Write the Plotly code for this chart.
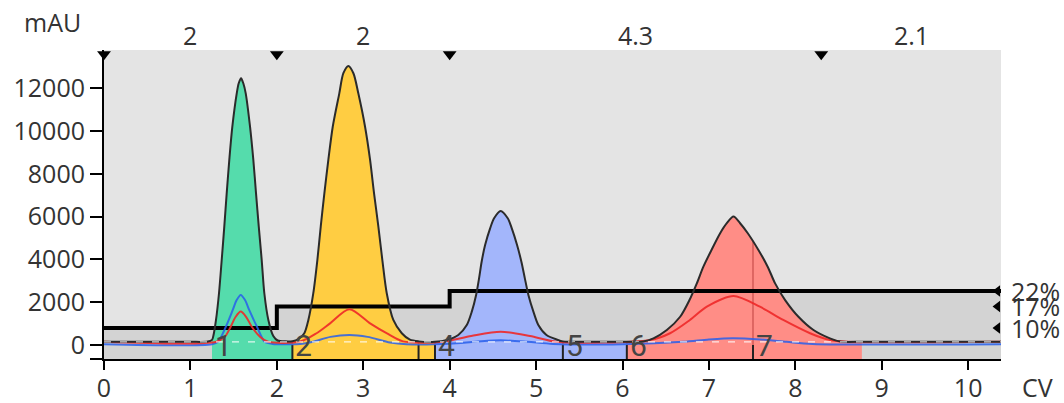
import numpy as np
import plotly.graph_objects as go

# ---------------- data ----------------
uv_x = [0.0, 0.5, 1.0, 1.20, 1.25, 1.265, 1.296, 1.331, 1.362, 1.392, 1.420, 1.450, 1.485, 1.536, 1.559,
        1.586, 1.612, 1.640, 1.690, 1.728, 1.759, 1.791, 1.825, 1.855, 1.902, 1.959, 2.01, 2.10, 2.18,
        2.245, 2.318, 2.365, 2.422, 2.469, 2.508, 2.550, 2.596, 2.647, 2.723, 2.770, 2.828, 2.886, 2.943,
        3.021, 3.079, 3.125, 3.175, 3.221, 3.272, 3.348, 3.446, 3.54, 3.64, 3.83, 3.97, 4.10, 4.198, 4.256,
        4.306, 4.34, 4.37, 4.41, 4.468, 4.514, 4.59, 4.672, 4.719, 4.78, 4.83, 4.87, 4.911, 4.969, 5.026,
        5.12, 5.25, 5.31, 5.6, 6.05, 6.24, 6.358, 6.513, 6.667, 6.775, 6.86, 6.936, 7.03, 7.13, 7.207,
        7.284, 7.361, 7.45, 7.573, 7.68, 7.766, 7.882, 8.036, 8.21, 8.40, 8.52, 8.77, 9.5, 10.38]
uv_y = [150, 150, 150, 160, 240, 420, 1170, 2430, 3970, 5530, 7100, 8650, 10200, 11760, 12230,
        12460, 12230, 11760, 10200, 8650, 7100, 5530, 3970, 2430, 1170, 420, 210, 170, 180,
        260, 550, 1170, 2420, 3970, 5530, 7090, 8650, 10200, 11760, 12700, 13040, 12700, 11760,
        10200, 8650, 7090, 5530, 3970, 2420, 1170, 550, 250, 170, 150, 240, 470, 935, 1560,
        2340, 3115, 3890, 4670, 5450, 5920, 6260, 5920, 5450, 4670, 3890, 3115, 2340, 1560, 935,
        470, 240, 170, 150, 150, 160, 310, 700, 1320, 2100, 2880, 3660, 4440, 5220, 5690,
        6000, 5690, 5220, 4440, 3660, 2880, 2100, 1320, 700, 310, 160, 150, 150, 150]

blue_x = [0.0, 1.25, 1.32, 1.41, 1.49, 1.535, 1.582, 1.632, 1.68, 1.77, 1.86, 1.95, 2.30, 2.42, 2.62, 2.84,
          3.05, 3.31, 3.5, 4.0, 4.3, 4.59, 4.9, 5.2, 6.0, 6.7, 7.0, 7.28, 7.6, 7.9, 8.2, 10.38]
blue_y = [40, 40, 150, 855, 1640, 2100, 2340, 2100, 1640, 855, 150, 50, 60, 150, 380, 470,
          380, 120, 40, 60, 150, 220, 150, 50, 40, 150, 260, 320, 260, 150, 50, 40]

red_x = [0.0, 1.30, 1.40, 1.466, 1.524, 1.582, 1.644, 1.71, 1.805, 1.90, 2.27, 2.46, 2.616, 2.839, 3.079,
         3.27, 3.46, 3.92, 4.25, 4.59, 4.93, 5.24, 6.32, 6.55, 6.78, 6.976, 7.284, 7.59, 7.86, 8.17, 8.40,
         8.6, 10.38]
red_y = [150, 150, 390, 855, 1320, 1560, 1320, 855, 390, 150, 160, 550, 1010, 1670, 1010,
         550, 170, 150, 420, 620, 420, 150, 230, 550, 1170, 1790, 2290, 1790, 1170, 550, 230,
         150, 150]

base_level = 150

grad_x = [0, 2, 4, 10.38]
grad_pct = [10, 17, 22, 22]
pct_marks = [22, 17, 10]

frac_bounds = [1.25, 2.18, 3.64, 3.83, 5.31, 6.05, 7.51, 8.77]
frac_labels = ["1", "2", "3", "4", "5", "6", "7"]
frac_colors = ["#55dcac", "#ffcd42", "#ffcd42", "#a3b6fb", "#a3b6fb", "#ff8d86", "#ff8d86"]

seg_bounds = [0, 2, 4, 8.3]
seg_labels = ["2", "2", "4.3", "2.1"]

x_range = [0, 10.38]
y_range = [-654, 13785]
y_ticks = [0, 2000, 4000, 6000, 8000, 10000, 12000]
x_ticks = list(range(0, 11))

FONT = "Open Sans"
TXT = "#333333"

uvx = np.array(uv_x)
uvy = np.array(uv_y)


def pct_to_y(p):
    # %B scale spans the full plot height (0 % at the bottom edge, 100 % at the top edge)
    return y_range[0] + np.asarray(p, dtype=float) / 100.0 * (y_range[1] - y_range[0])


grad_y = pct_to_y(grad_pct)

fig = go.Figure()

# gradient darker region (between plot bottom and gradient step line)
fig.add_trace(go.Scatter(x=grad_x, y=grad_y, mode="lines", line=dict(width=0, shape="hv"),
                         hoverinfo="skip", showlegend=False))
fig.add_trace(go.Scatter(x=grad_x, y=[y_range[0]] * len(grad_x), mode="lines", line=dict(width=0),
                         fill="tonexty", fillcolor="#d3d3d3", hoverinfo="skip", showlegend=False))

# fraction band rectangles + peak fills (grouped by colour)
groups = []
for i in range(len(frac_labels)):
    a, b, c = frac_bounds[i], frac_bounds[i + 1], frac_colors[i]
    if groups and groups[-1][2] == c and abs(groups[-1][1] - a) < 1e-9:
        groups[-1][1] = b
    else:
        groups.append([a, b, c])

for a, b, c in groups:
    fig.add_trace(go.Scatter(x=[a, b, b, a, a], y=[y_range[0], y_range[0], 0, 0, y_range[0]],
                             mode="lines", line=dict(width=0), fill="toself", fillcolor=c,
                             hoverinfo="skip", showlegend=False))
    m = (uvx >= a - 1e-9) & (uvx <= b + 1e-9)
    fig.add_trace(go.Scatter(x=uvx[m], y=uvy[m], mode="lines", line=dict(width=0, shape="spline", smoothing=0.8),
                             fill="tozeroy", fillcolor=c, hoverinfo="skip", showlegend=False))

# fraction boundary lines
for bnd in frac_bounds[1:-1]:
    top = float(np.interp(bnd, uvx, uvy))
    fig.add_trace(go.Scatter(x=[bnd, bnd], y=[0, top], mode="lines",
                             line=dict(color="rgba(170,40,40,0.5)", width=1.5),
                             hoverinfo="skip", showlegend=False))
    fig.add_trace(go.Scatter(x=[bnd, bnd], y=[y_range[0], 0], mode="lines",
                             line=dict(color="#222222", width=2), hoverinfo="skip", showlegend=False))

# gradient line
fig.add_trace(go.Scatter(x=grad_x, y=grad_y, mode="lines",
                         line=dict(color="#000000", width=4, shape="hv"), hoverinfo="skip", showlegend=False))

# secondary curves
fig.add_trace(go.Scatter(x=blue_x, y=blue_y, mode="lines",
                         line=dict(color="rgba(40,95,235,0.85)", width=2, shape="spline", smoothing=0.8),
                         hoverinfo="skip", showlegend=False))
fig.add_trace(go.Scatter(x=red_x, y=red_y, mode="lines",
                         line=dict(color="rgba(238,40,40,0.9)", width=2, shape="spline", smoothing=0.8),
                         hoverinfo="skip", showlegend=False))

# UV outline
fig.add_trace(go.Scatter(x=uv_x, y=uv_y, mode="lines",
                         line=dict(color="#2b2b2b", width=2, shape="spline", smoothing=0.8),
                         hoverinfo="skip", showlegend=False))
# dashed baseline highlight
fig.add_trace(go.Scatter(x=x_range, y=[base_level, base_level], mode="lines",
                         line=dict(color="rgba(255,255,255,0.8)", width=1.3, dash="7px,9px"),
                         hoverinfo="skip", showlegend=False))

# top segment markers
fig.add_trace(go.Scatter(x=seg_bounds, y=pct_to_y([98.6] * len(seg_bounds)), mode="markers",
                         marker=dict(symbol="triangle-down", size=12, color="#000000"),
                         cliponaxis=False, hoverinfo="skip", showlegend=False))
# right % markers
fig.add_trace(go.Scatter(x=[x_range[1] - 0.04] * len(pct_marks), y=pct_to_y(pct_marks), mode="markers",
                         marker=dict(symbol="triangle-left", size=10, color="#000000"),
                         cliponaxis=False, hoverinfo="skip", showlegend=False))

ann = []
ends = seg_bounds[1:] + [x_range[1]]
for s, e, lab in zip(seg_bounds, ends, seg_labels):
    ann.append(dict(x=(s + e) / 2, y=1.05, xref="x", yref="paper", text=lab, showarrow=False,
                    font=dict(family=FONT, size=25, color=TXT), xanchor="center", yanchor="middle"))
for p, yv in zip(pct_marks, pct_to_y(pct_marks)):
    ann.append(dict(x=1.009, y=float(yv), xref="paper", yref="y", text=f"{p}%", showarrow=False,
                    font=dict(family=FONT, size=25, color=TXT), xanchor="left", yanchor="middle"))
for i, lab in enumerate(frac_labels):
    a, b = frac_bounds[i], frac_bounds[i + 1]
    if b - a < 0.3:
        continue
    ann.append(dict(x=a, y=-10, xref="x", yref="y", text=lab, showarrow=False, xshift=1,
                    font=dict(family="Liberation Sans Narrow, Roboto", size=30, color="#444444"),
                    xanchor="left", yanchor="middle"))
ann.append(dict(x=-0.057, y=1.09, xref="paper", yref="paper", text="mAU", showarrow=False,
                font=dict(family=FONT, size=25, color=TXT), xanchor="center", yanchor="middle"))
ann.append(dict(x=1.041, y=-0.092, xref="paper", yref="paper", text="CV", showarrow=False,
                font=dict(family=FONT, size=25, color=TXT), xanchor="center", yanchor="middle"))

fig.update_layout(
    width=1064, height=403,
    margin=dict(l=104, r=63, t=50, b=44, autoexpand=False),
    plot_bgcolor="#e4e4e4", paper_bgcolor="#ffffff",
    xaxis=dict(range=x_range, tickvals=x_ticks, ticks="outside", ticklen=9, tickwidth=2, tickcolor="#000",
               showline=True, linecolor="#000", linewidth=2, showgrid=False, zeroline=False, automargin=False,
               ticklabelstandoff=-3, tickfont=dict(family=FONT, size=25, color=TXT)),
    yaxis=dict(range=y_range, tickvals=y_ticks, tickformat="d", ticks="outside", ticklen=12, tickwidth=2,
               tickcolor="#000", showline=True, linecolor="#000", linewidth=2, showgrid=False, zeroline=False,
               automargin=False, tickfont=dict(family=FONT, size=25, color=TXT)),
    annotations=ann,
    shapes=[dict(type="line", xref="paper", yref="paper", x0=-14 / 896, x1=0, y0=0, y1=0,
                 line=dict(color="#000", width=2))],
)

# remove the default page margin so the 1064x403 figure fills the window exactly
fig.write_html("out.html", config={"displayModeBar": False},
               post_script="document.body.style.margin='0';document.body.style.overflow='hidden';")
